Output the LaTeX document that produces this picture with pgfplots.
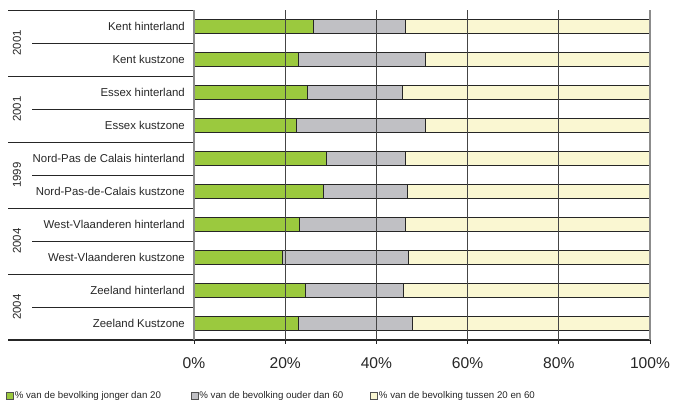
\documentclass[border=0pt]{standalone}
\usepackage{pgfplots}
\usepackage{pgfplotstable}
\pgfplotsset{compat=1.18}
\usepackage{fontspec}
\setmainfont{Liberation Sans}

\definecolor{young}{HTML}{9BC93E}
\definecolor{old}{HTML}{C0C0C4}
\definecolor{middle}{HTML}{FAF7D2}
\definecolor{ink}{HTML}{262626}
\definecolor{gridc}{HTML}{454545}
\definecolor{edge}{HTML}{8C8C8C}

% share of the population per age band (%); idx 9 is the top row
\pgfplotstableread{
idx young old middle
9 26.2 20.2 53.6
8 22.9 27.8 49.3
7 24.9 20.9 54.2
6 22.4 28.3 49.3
5 29.1 17.3 53.6
4 28.4 18.4 53.2
3 23.1 23.3 53.6
2 19.4 27.7 52.9
1 24.4 21.5 54.1
0 23.0 24.9 52.1
}\agedata

\tikzset{
  catlabel/.style={anchor=east, inner sep=0pt, font=\fontsize{11.4}{13}\selectfont, text=ink},
  yearlabel/.style={rotate=90, font=\fontsize{11.4}{13}\selectfont, text=ink},
  pctlabel/.style={inner sep=0pt, font=\fontsize{15.6}{18}\selectfont, text=ink},
}

\begin{document}
\begin{tikzpicture}
\useasboundingbox (-194pt,-62pt) rectangle (479pt,340pt);
\begin{axis}[
  at={(0,0)}, anchor=south west,
  scale only axis,
  width=456pt, height=330pt,
  xbar stacked,
  bar width=0.42,
  xmin=0, xmax=100,
  ymin=-0.5, ymax=9.5,
  clip=false,
  axis lines=none,
  legend columns=3,
  legend style={
    at={(axis description cs:-0.4123,-0.1697)}, anchor=west,
    draw=none, fill=none, inner sep=0pt,
    nodes={inner sep=1pt},
    font=\fontsize{9.7}{11}\selectfont, text=ink,
  },
  legend image code/.code={%
    \draw[#1, draw=ink!80, line width=0.6pt] (0pt,-3.4pt) rectangle (7pt,3.4pt);},
]
% vertical grid behind the bars
\pgfplotsinvokeforeach{20,40,60,80}{
  \draw[gridc, line width=0.9pt] (axis cs:#1,-0.5) -- (axis cs:#1,9.5);
}
\pgfplotsinvokeforeach{0,100}{
  \draw[edge, line width=1.5pt] (axis cs:#1,-0.5) -- (axis cs:#1,9.5);
}

\addplot[fill=young, draw=ink, line width=0.8pt] table[x=young, y=idx] {\agedata};
\addlegendentry{\makebox[175pt][l]{\% van de bevolking jonger dan 20}}
\addplot[fill=old, draw=ink, line width=0.8pt] table[x=old, y=idx] {\agedata};
\addlegendentry{\makebox[170pt][l]{\% van de bevolking ouder dan 60}}
\addplot[fill=middle, draw=ink, line width=0.8pt] table[x=middle, y=idx] {\agedata};
\addlegendentry{\% van de bevolking tussen 20 en 60}

% baseline under the last row, running into the label column, with its ticks
\draw[ink, line width=1.1pt] (rel axis cs:1,0) -- (rel axis cs:0,0) -- ++(-186pt,0pt);
\pgfplotsinvokeforeach{0,20,40,60,80,100}{
  \draw[ink, line width=0.9pt] (axis cs:#1,-0.5) -- ++(0pt,-4pt);
  \path (axis cs:#1,-0.5) ++(0pt,-23pt) node[pctlabel] {#1\%};
}

% category separators in the left margin
\pgfplotsinvokeforeach{1.5,3.5,5.5,7.5,9.5}{
  \draw[ink, line width=0.9pt] (axis cs:0,#1) -- ++(-186pt,0pt);
}
\pgfplotsinvokeforeach{0.5,2.5,4.5,6.5,8.5}{
  \draw[ink, line width=0.9pt] (axis cs:0,#1) -- ++(-162pt,0pt);
}

% category names
\path (axis cs:0,9) ++(-9pt,0pt) node[catlabel] {Kent hinterland};
\path (axis cs:0,8) ++(-9pt,0pt) node[catlabel] {Kent kustzone};
\path (axis cs:0,7) ++(-9pt,0pt) node[catlabel] {Essex hinterland};
\path (axis cs:0,6) ++(-9pt,0pt) node[catlabel] {Essex kustzone};
\path (axis cs:0,5) ++(-9pt,0pt) node[catlabel] {Nord-Pas de Calais hinterland};
\path (axis cs:0,4) ++(-9pt,0pt) node[catlabel] {Nord-Pas-de-Calais kustzone};
\path (axis cs:0,3) ++(-9pt,0pt) node[catlabel] {West-Vlaanderen hinterland};
\path (axis cs:0,2) ++(-9pt,0pt) node[catlabel] {West-Vlaanderen kustzone};
\path (axis cs:0,1) ++(-9pt,0pt) node[catlabel] {Zeeland hinterland};
\path (axis cs:0,0) ++(-9pt,0pt) node[catlabel] {Zeeland Kustzone};

% survey years per region
\path (axis cs:0,8.5) ++(-177pt,0pt) node[yearlabel] {2001};
\path (axis cs:0,6.5) ++(-177pt,0pt) node[yearlabel] {2001};
\path (axis cs:0,4.5) ++(-177pt,0pt) node[yearlabel] {1999};
\path (axis cs:0,2.5) ++(-177pt,0pt) node[yearlabel] {2004};
\path (axis cs:0,0.5) ++(-177pt,0pt) node[yearlabel] {2004};
\end{axis}
\end{tikzpicture}
\end{document}
